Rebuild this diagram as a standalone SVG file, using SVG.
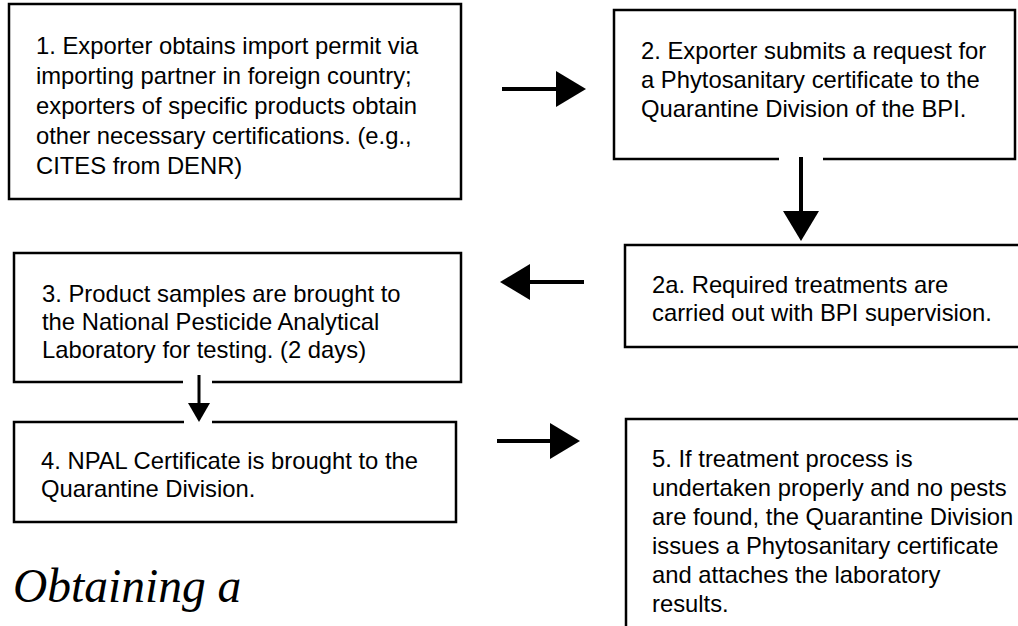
<svg xmlns="http://www.w3.org/2000/svg" width="1018" height="626" viewBox="0 0 1018 626">
  <style>
    .box { fill: #ffffff; stroke: #000000; stroke-width: 2.5; }
    .txt { font-family: "Liberation Sans", Arial, sans-serif; font-size: 23.8px; fill: #000000; }
    .title { font-family: "Liberation Serif", "Times New Roman", serif; font-style: italic; font-size: 47.5px; fill: #000000; }
    .big { stroke: #000000; stroke-width: 4; fill: none; marker-end: url(#bighead); }
    .small { stroke: #000000; stroke-width: 3; fill: none; marker-end: url(#smallhead); }
  </style>
  <defs>
    <marker id="bighead" markerUnits="userSpaceOnUse" markerWidth="30" markerHeight="36" viewBox="0 0 30 36" refX="0" refY="18" orient="auto">
      <path d="M0,0 L30,18 L0,36 Z" fill="#000000"/>
    </marker>
    <marker id="smallhead" markerUnits="userSpaceOnUse" markerWidth="19" markerHeight="22" viewBox="0 0 19 22" refX="0" refY="11" orient="auto">
      <path d="M0,0 L19,11 L0,22 Z" fill="#000000"/>
    </marker>
  </defs>
  <rect width="1018" height="626" fill="#ffffff"/>

  <g id="node1">
    <rect class="box" x="9" y="4" width="452" height="195"/>
    <text class="txt">
      <tspan x="36" y="54">1. Exporter obtains import permit via</tspan>
      <tspan x="36" y="84">importing partner in foreign country;</tspan>
      <tspan x="36" y="114">exporters of specific products obtain</tspan>
      <tspan x="36" y="144">other necessary certifications. (e.g.,</tspan>
      <tspan x="36" y="174">CITES from DENR)</tspan>
    </text>
  </g>

  <g id="node2">
    <path class="box" d="M779,159 L614,159 L614,10 L1015,10 L1015,159 L823,159"/>
    <text class="txt">
      <tspan x="641" y="59">2. Exporter submits a request for</tspan>
      <tspan x="641" y="88">a Phytosanitary certificate to the</tspan>
      <tspan x="641" y="117">Quarantine Division of the BPI.</tspan>
    </text>
  </g>

  <g id="node2a">
    <rect class="box" x="625" y="245" width="420" height="102"/>
    <text class="txt">
      <tspan x="652" y="293">2a. Required treatments are</tspan>
      <tspan x="652" y="321">carried out with BPI supervision.</tspan>
    </text>
  </g>

  <g id="node3">
    <path class="box" d="M183,382 L14,382 L14,253 L461,253 L461,382 L212,382"/>
    <text class="txt">
      <tspan x="42" y="302">3. Product samples are brought to</tspan>
      <tspan x="42" y="330">the National Pesticide Analytical</tspan>
      <tspan x="42" y="358">Laboratory for testing. (2 days)</tspan>
    </text>
  </g>

  <g id="node4">
    <path class="box" d="M184,422 L14,422 L14,522 L456,522 L456,422 L212,422"/>
    <text class="txt">
      <tspan x="41" y="469">4. NPAL Certificate is brought to the</tspan>
      <tspan x="41" y="497">Quarantine Division.</tspan>
    </text>
  </g>

  <g id="node5">
    <rect class="box" x="626" y="419" width="420" height="260"/>
    <text class="txt">
      <tspan x="652" y="467">5. If treatment process is</tspan>
      <tspan x="652" y="496">undertaken properly and no pests</tspan>
      <tspan x="652" y="525">are found, the Quarantine Division</tspan>
      <tspan x="652" y="554">issues a Phytosanitary certificate</tspan>
      <tspan x="652" y="583">and attaches the laboratory</tspan>
      <tspan x="652" y="612">results.</tspan>
    </text>
  </g>

  <g id="title">
    <text class="title" x="13" y="602">Obtaining a</text>
  </g>

  <g id="connectors">
    <line class="big" x1="502" y1="89" x2="556" y2="89"/>
    <line class="big" x1="801" y1="157" x2="801" y2="211"/>
    <line class="big" x1="584" y1="282" x2="530" y2="282"/>
    <line class="small" x1="199" y1="375" x2="199" y2="403"/>
    <line class="big" x1="497" y1="441" x2="550" y2="441"/>
  </g>
</svg>
